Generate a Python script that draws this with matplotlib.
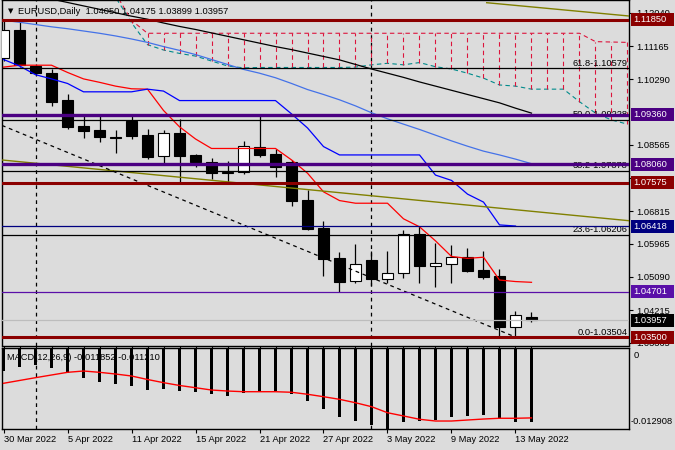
import numpy as np
import matplotlib
matplotlib.use('Agg')
import matplotlib.pyplot as plt
from matplotlib.patches import Rectangle
import matplotlib.transforms as mtransforms

plt.rcParams['font.family'] = ['Liberation Sans', 'DejaVu Sans']

# ---------------- data ----------------
dates = ['30 Mar', '31 Mar', '1 Apr', '4 Apr', '5 Apr', '6 Apr', '7 Apr', '8 Apr',
         '11 Apr', '12 Apr', '13 Apr', '14 Apr', '15 Apr', '18 Apr', '19 Apr', '20 Apr',
         '21 Apr', '22 Apr', '25 Apr', '26 Apr', '27 Apr', '28 Apr', '29 Apr', '2 May',
         '3 May', '4 May', '5 May', '6 May', '9 May', '10 May', '11 May', '12 May',
         '13 May', '16 May']
opens = [1.1085, 1.1159, 1.1065, 1.1046, 1.0974, 1.0906, 1.0896, 1.0878,
         1.0920, 1.0882, 1.0827, 1.0887, 1.0830, 1.0811, 1.0782, 1.0786,
         1.0852, 1.0833, 1.0811, 1.0711, 1.0638, 1.0560, 1.0498, 1.0554,
         1.0505, 1.0519, 1.0621, 1.0539, 1.0543, 1.0561, 1.0527, 1.0512,
         1.0378, 1.04050]
highs = [1.1183, 1.1180, 1.1070, 1.1056, 1.0990, 1.0935, 1.0935, 1.0896,
         1.0935, 1.0898, 1.0896, 1.0925, 1.0833, 1.0821, 1.0814, 1.0867,
         1.0935, 1.0845, 1.0816, 1.0738, 1.0656, 1.0575, 1.0595, 1.0578,
         1.0578, 1.0633, 1.0642, 1.0599, 1.0593, 1.0585, 1.0578, 1.0530,
         1.0420, 1.04175]
lows = [1.1078, 1.1062, 1.1040, 1.0959, 1.0898, 1.0875, 1.0865, 1.0836,
        1.0871, 1.0818, 1.0808, 1.0757, 1.0797, 1.0767, 1.0760, 1.0781,
        1.0824, 1.0771, 1.0696, 1.0633, 1.0512, 1.0470, 1.0492, 1.0484,
        1.0493, 1.0506, 1.0492, 1.0482, 1.0494, 1.0522, 1.0503, 1.0354,
        1.0350, 1.03899]
closes = [1.1159, 1.1066, 1.1046, 1.0970, 1.0903, 1.0894, 1.0878, 1.0874,
          1.0880, 1.0825, 1.0887, 1.0828, 1.0812, 1.0782, 1.0786, 1.0853,
          1.0830, 1.0799, 1.0710, 1.0635, 1.0556, 1.0497, 1.0543, 1.0504,
          1.0520, 1.0621, 1.0539, 1.0545, 1.0561, 1.0526, 1.0510, 1.0378,
          1.0409, 1.03957]

tenkan = [1.1061, 1.1066, 1.1066, 1.1066, 1.1047, 1.1030, 1.1021, 1.1011,
          1.1004, 1.1003, 1.0947, 1.0904, 1.0872, 1.0847, 1.0847, 1.0847,
          1.0847, 1.0847, 1.0817, 1.0782, 1.0733, 1.0710, 1.0703, 1.0703,
          1.0703, 1.0662, 1.0641, 1.0604, 1.0563, 1.0558, 1.0561, 1.0501,
          1.0497, 1.0495]
kijun = [1.1081, 1.1064, 1.1041, 1.1030, 1.1018, 1.0996, 1.0996, 1.0996,
         1.0996, 1.1003, 1.0998, 1.0973, 1.0973, 1.0973, 1.0973, 1.0973,
         1.0973, 1.0973, 1.0938, 1.0901, 1.0852, 1.0830, 1.0830, 1.0830,
         1.0830, 1.0830, 1.0830, 1.0777, 1.0763, 1.0727, 1.0706, 1.0646,
         1.0643]
ma_blue = [1.1184, 1.1179, 1.1173, 1.1167, 1.1162, 1.1156, 1.1150, 1.1143,
           1.1135, 1.1126, 1.1115, 1.1105, 1.1094, 1.1081, 1.1068, 1.1055,
           1.1045, 1.1033, 1.1018, 1.1002, 1.0989, 1.0975, 1.0959, 1.0941,
           1.0925, 1.0911, 1.0897, 1.0882, 1.0867, 1.0853, 1.0840, 1.0830,
           1.0819, 1.0807]
ma_black_start = 3
ma_black = [1.1240, 1.1231, 1.1222, 1.1213, 1.1204, 1.1195, 1.1187, 1.1177,
            1.1168, 1.1160, 1.1151, 1.1142, 1.1133, 1.1124, 1.1115, 1.1107,
            1.1098, 1.1089, 1.1080, 1.1068, 1.1056, 1.1045, 1.1034, 1.1022,
            1.1011, 1.1000, 1.0989, 1.0978, 1.0967, 1.0953, 1.0940]

cloud_start = 7
span_b = [1.1255, 1.1184] + [1.1150] * 28 + [1.1128, 1.1127, 1.1126]
span_a = [1.1245, 1.1178, 1.1120, 1.1106, 1.1097, 1.1090, 1.1077, 1.1064,
          1.1059, 1.1060, 1.1060, 1.1060, 1.1060, 1.1060, 1.1060, 1.1061,
          1.1067, 1.1071, 1.1067, 1.1073, 1.1062, 1.1056, 1.1045, 1.1032,
          1.1014, 1.1011, 1.1003, 1.1003, 1.1003, 1.0970, 1.0940, 1.0922,
          1.0911]

macd_hist = [-0.00364, -0.00309, -0.00270, -0.00326, -0.00406, -0.00476, -0.00540, -0.00582,
             -0.00605, -0.00669, -0.00653, -0.00685, -0.00701, -0.00742, -0.00765, -0.00717,
             -0.00701, -0.00690, -0.00742, -0.00850, -0.00978, -0.01102, -0.01166, -0.01235,
             -0.01291, -0.01182, -0.01166, -0.01155, -0.01102, -0.01090, -0.01074, -0.01143,
             -0.01182, -0.011852]
macd_signal = [-0.00566, -0.00521, -0.00476, -0.00433, -0.00390, -0.00369, -0.00390, -0.00417,
               -0.00449, -0.00505, -0.00556, -0.00601, -0.00637, -0.00674, -0.00690, -0.00701,
               -0.00701, -0.00701, -0.00710, -0.00742, -0.00781, -0.00823, -0.00878, -0.00941,
               -0.01038, -0.01090, -0.01143, -0.01171, -0.01171, -0.01155, -0.01139, -0.01127,
               -0.01127, -0.01121]

price_ticks = [1.12040, 1.11165, 1.10290, 1.08565, 1.07690, 1.06815,
               1.05965, 1.05090, 1.04215, 1.03365]
hlevels = [1.11850, 1.09360, 1.08060, 1.07575, 1.06418, 1.04701, 1.03957, 1.03500]
fib_pct = ['61.8', '50.0', '38.2', '23.6', '0.0']
fib_levels = [1.10579, 1.09228, 1.07878, 1.06206, 1.03504]
date_tick_idx = [0, 4, 8, 12, 16, 20, 24, 28, 32]
date_tick_labels = ['30 Mar 2022', '5 Apr 2022', '11 Apr 2022', '15 Apr 2022',
                    '21 Apr 2022', '27 Apr 2022', '3 May 2022', '9 May 2022', '13 May 2022']
separator_idx = [2, 23]
olive_low = [(-0.094, 1.08167), (39.094, 1.06570)]
olive_high = [(30.2, 1.12304), (39.094, 1.11954)]
dash_trend = [(-0.094, 1.09076), (32.0, 1.03510)]

# ---------------- styles ----------------
hl_colors = ['#8B0000', '#4B0082', '#4B0082', '#8B0000', '#000080', '#5A0FA8', '#BDBDBD', '#8B0000']
hl_widths = [2.2, 2.4, 2.4, 2.2, 0.9, 0.9, 0.9, 2.2]
box_colors = ['#8B0000', '#4B0082', '#4B0082', '#8B0000', '#000080', '#5A0FA8', '#000000', '#8B0000']
BG = '#DCDCDC'
FS = 6.7

W, H = 675, 450
fig = plt.figure(figsize=(6.75, 4.5), dpi=100, facecolor=BG)

def fr(x0, y0, x1, y1):
    return [x0 / W, 1 - y1 / H, (x1 - x0) / W, (y1 - y0) / H]

ax = fig.add_axes(fr(2, 0, 629, 345.5))
axm = fig.add_axes(fr(2, 348, 629, 428.5))
for a in (ax, axm):
    a.set_facecolor(BG)
    a.set_xlim(-0.094, 39.094)
    for s in a.spines.values():
        s.set_color('black')
        s.set_linewidth(1.0)

ax.set_ylim(1.03288, 1.12375)
n = len(dates)
xs = np.arange(n)

# separators
for a in (ax, axm):
    for s in separator_idx:
        a.axvline(s, color='black', lw=0.9, ls=(0, (3, 3)), zorder=1)

# cloud
cx = np.arange(cloud_start, cloud_start + len(span_b))
ax.plot(cx, span_b, color='#DC143C', lw=0.8, ls=(0, (4, 3)), zorder=2)
ax.plot(cx, span_a, color='#008B8B', lw=0.8, ls=(0, (4, 3)), zorder=2)
for xi, a_, b_ in zip(cx, span_a, span_b):
    if b_ - a_ > 0.0005:
        ax.vlines(xi, a_, b_, color='#DC143C', lw=0.8, linestyles=(0, (4, 3)), zorder=2)

# candles
body_w = 0.64
for i in range(n):
    o, h, l, c = opens[i], highs[i], lows[i], closes[i]
    ax.vlines(i, l, h, color='black', lw=0.9, zorder=3)
    bull = c >= o
    bot = min(o, c)
    ht = abs(c - o)
    if ht < 0.00008:
        ax.hlines(o, i - body_w / 2, i + body_w / 2, color='black', lw=1.0, zorder=4)
    else:
        ax.add_patch(Rectangle((i - body_w / 2, bot), body_w, ht,
                               facecolor='white' if bull else 'black',
                               edgecolor='black', lw=0.8, zorder=4))

# indicators
ax.plot(xs, tenkan, color='red', lw=0.9, zorder=5)
ax.plot(np.arange(len(kijun)), kijun, color='blue', lw=0.9, zorder=5)
ax.plot(xs, ma_blue, color='#4472E8', lw=0.9, zorder=5)
ax.plot(np.arange(ma_black_start, ma_black_start + len(ma_black)), ma_black,
        color='black', lw=0.9, zorder=5)

# objects: trend lines
for pts, col in ((olive_low, '#808000'), (olive_high, '#808000')):
    ax.plot([pts[0][0], pts[1][0]], [pts[0][1], pts[1][1]], color=col, lw=1.0, zorder=6)
ax.plot([dash_trend[0][0], dash_trend[1][0]], [dash_trend[0][1], dash_trend[1][1]],
        color='black', lw=0.9, ls=(0, (3, 3)), zorder=6)

# fib
for pct, lv in zip(fib_pct, fib_levels):
    ax.axhline(lv, color='black', lw=0.9, zorder=6)
    ax.text(39.0, lv + 0.0002, f'{pct}-{lv:.5f}', ha='right', va='bottom',
            fontsize=FS, color='black', zorder=6)

# horizontal levels
for lv, col, lw in zip(hlevels, hl_colors, hl_widths):
    ax.axhline(lv, color=col, lw=lw, zorder=7)

# right axis
ax.yaxis.tick_right()
ax.set_yticks(price_ticks)
ax.set_yticklabels([f'{t:.5f}' for t in price_ticks])
ax.tick_params(axis='y', direction='out', length=3, width=0.8, pad=2, labelsize=FS)
ax.set_xticks(xs)
ax.set_xticklabels([])
ax.tick_params(axis='x', direction='out', length=2, width=0.8)

# label boxes
trans = mtransforms.blended_transform_factory(ax.transAxes, ax.transData)
bh = 13 / 3802
for lv, col in zip(hlevels, box_colors):
    ax.add_patch(Rectangle((1.0024, lv - bh / 2), 0.0686, bh, transform=trans,
                           facecolor=col, edgecolor='none', clip_on=False, zorder=10))
    ax.text(1.0072, lv, f'{lv:.5f}', transform=trans, ha='left', va='center',
            fontsize=FS, color='white', zorder=11, clip_on=False)

# title
fig.text(8 / W, 1 - 11.5 / H, '\u25bc', fontsize=5, ha='left', va='center',
         family=['DejaVu Sans'])
fig.text(18 / W, 1 - 11 / H, 'EURUSD,Daily  1.04050 1.04175 1.03899 1.03957',
         fontsize=FS, ha='left', va='center', color='black')

# MACD
axm.set_ylim(-0.01291, 0.0)
axm.bar(xs, macd_hist, width=0.14, color='black', zorder=3)
axm.plot(xs, macd_signal, color='red', lw=1.0, zorder=4)
axm.set_yticks([])
axm.set_xticks(date_tick_idx)
axm.set_xticklabels(date_tick_labels)
for lab in axm.get_xticklabels():
    lab.set_ha('left')
axm.tick_params(axis='x', direction='out', length=3, width=0.8, pad=2, labelsize=FS)
fig.text(634 / W, 1 - 355 / H, '0', fontsize=FS, ha='left', va='center')
fig.text(631 / W, 1 - 421 / H, '-0.012908', fontsize=FS, ha='left', va='center')
fig.text(7 / W, 1 - 357 / H, 'MACD(12,26,9) -0.011852 -0.011210', fontsize=FS,
         ha='left', va='center')

fig.savefig('out.png', dpi=100, facecolor=BG)
